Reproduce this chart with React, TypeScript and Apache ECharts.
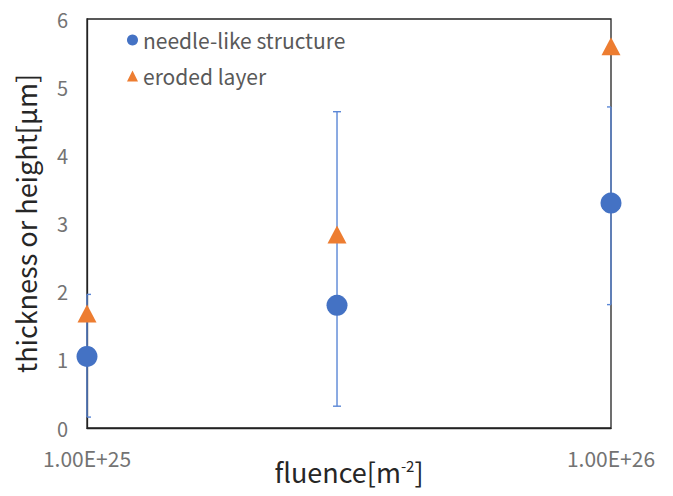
import React, { useEffect, useRef } from "react";
import * as echarts from "echarts";

const fluence = [1e25, 3e25, 1e26];
const needleHeight = [1.05, 1.8, 3.3];
const needleLow = [0.16, 0.32, 1.81];
const needleHigh = [1.96, 4.64, 4.71];
const erodedThickness = [1.68, 2.84, 5.6];
const yTicks = { min: 0, max: 6, interval: 1 };
const xRange = { min: 1e25, max: 1e26 };

const FONT = '"Noto Sans CJK JP", "Noto Sans", sans-serif';

export default function App() {
  const ref = useRef<HTMLDivElement>(null);
  useEffect(() => {
    if (!ref.current) return;
    const chart = echarts.init(ref.current, null, { renderer: "svg" });
    const errData = fluence.map((f, i) => [f, needleLow[i], needleHigh[i]]);
    chart.setOption({
      animation: false,
      backgroundColor: "#ffffff",
      grid: {
        left: 87,
        right: 62,
        top: 19,
        bottom: 68,
        outerBoundsMode: "none",
        containLabel: false,
        show: true,
        borderColor: "#222",
        borderWidth: 1.3,
      },
      legend: {
        orient: "vertical",
        left: 122,
        top: 23,
        itemWidth: 11,
        itemHeight: 11,
        itemGap: 12,
        data: ["needle-like structure", "eroded layer"],
        textStyle: { fontFamily: FONT, fontSize: 21, color: "#595959", lineHeight: 24 },
      },
      xAxis: {
        type: "log",
        logBase: 10,
        min: xRange.min,
        max: xRange.max,
        name: "fluence[m{sup|-2}]",
        nameLocation: "middle",
        nameGap: 30,
        nameMoveOverlap: false,
        nameTextStyle: {
          fontFamily: FONT,
          fontSize: 27,
          color: "#262626",
          rich: {
            sup: { fontFamily: FONT, fontSize: 15, color: "#262626", verticalAlign: "top", padding: [0, 0, 12, 0] },
          },
        },
        axisLine: { show: true, lineStyle: { color: "#222", width: 1.3 } },
        axisTick: { show: false },
        splitLine: { show: false },
        minorTick: { show: false },
        axisLabel: {
          showMinLabel: true,
          showMaxLabel: true,
          margin: 19,
          fontFamily: FONT,
          fontSize: 21,
          lineHeight: 21,
          color: "#737373",
          formatter: (v: number) => v.toExponential(2).replace("e", "E"),
        },
      },
      yAxis: {
        type: "value",
        min: yTicks.min,
        max: yTicks.max,
        interval: yTicks.interval,
        name: "thickness or height[μm]",
        nameLocation: "middle",
        nameGap: 48,
        nameMoveOverlap: false,
        nameTextStyle: { fontFamily: FONT, fontSize: 27, color: "#262626" },
        axisLine: { show: true, lineStyle: { color: "#222", width: 1.3 } },
        axisTick: { show: false },
        splitLine: { show: false },
        axisLabel: {
          margin: 19,
          fontFamily: FONT,
          fontSize: 20,
          lineHeight: 18,
          padding: [0, 0, 6, 0],
          color: "#737373",
        },
      },
      series: [
        {
          type: "custom",
          name: "errorbar",
          clip: false,
          z: 5,
          encode: { x: 0, y: [1, 2] },
          data: errData,
          renderItem: (params: any, api: any) => {
            const cs = params.coordSys;
            const x = api.value(0);
            const lo = api.coord([x, api.value(1)]);
            const hi = api.coord([x, api.value(2)]);
            const hw = 4;
            const xl = Math.max(lo[0] - hw, cs.x);
            const xr = Math.min(lo[0] + hw, cs.x + cs.width);
            const style = { stroke: "#5b87d6", lineWidth: 1.4 };
            return {
              type: "group",
              children: [
                { type: "line", shape: { x1: lo[0], y1: lo[1], x2: hi[0], y2: hi[1] }, style },
                { type: "line", shape: { x1: xl, y1: lo[1], x2: xr, y2: lo[1] }, style },
                { type: "line", shape: { x1: xl, y1: hi[1], x2: xr, y2: hi[1] }, style },
              ],
            };
          },
        },
        {
          type: "scatter",
          name: "needle-like structure",
          symbol: "circle",
          symbolSize: 21,
          clip: false,
          z: 6,
          itemStyle: { color: "#4472C4", opacity: 1 },
          data: fluence.map((f, i) => [f, needleHeight[i]]),
        },
        {
          type: "scatter",
          name: "eroded layer",
          symbol: "triangle",
          symbolSize: [19, 18],
          clip: false,
          z: 7,
          itemStyle: { color: "#ED7D31", opacity: 1 },
          data: fluence.map((f, i) => [f, erodedThickness[i]]),
        },
      ],
    });
    return () => chart.dispose();
  }, []);
  return (
    <div
      ref={ref}
      style={{ position: "fixed", left: 0, top: 0, width: 673, height: 496, background: "#fff" }}
    />
  );
}
